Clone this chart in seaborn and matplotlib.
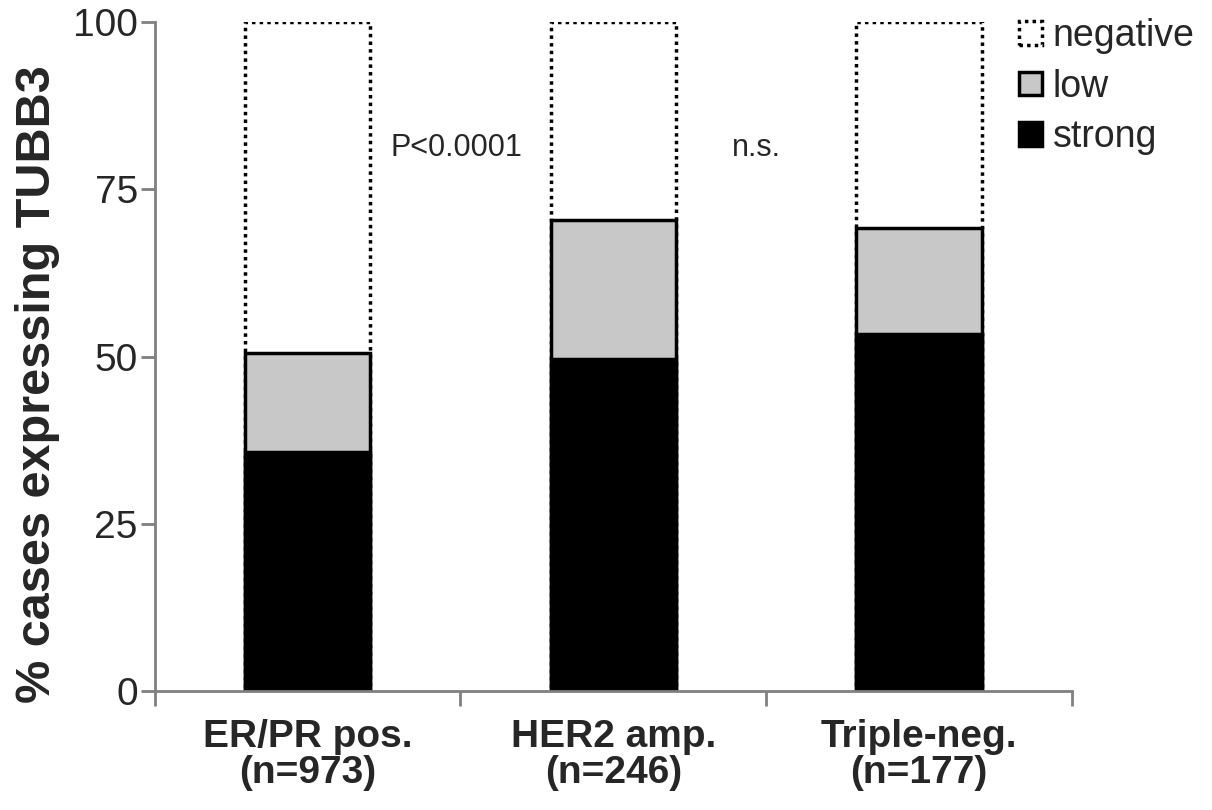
import matplotlib
matplotlib.use("Agg")
import matplotlib.pyplot as plt
import seaborn as sns
import pandas as pd
from matplotlib.patches import Patch

categories = ["ER/PR pos.\n(n=973)", "HER2 amp.\n(n=246)", "Triple-neg.\n(n=177)"]
strong = [35.8, 49.7, 53.4]
low = [14.8, 20.7, 15.8]
negative = [49.4, 29.6, 30.8]
y_ticks = [0, 25, 50, 75, 100]
annotations = ["P<0.0001", "n.s."]
legend_labels = ["negative", "low", "strong"]

sns.set_style("ticks")
plt.rcParams["font.family"] = ["Liberation Sans", "DejaVu Sans"]

df = pd.DataFrame({"category": categories, "strong": strong, "low": low, "negative": negative})
df["cum_low"] = df["strong"] + df["low"]
df["cum_neg"] = df["cum_low"] + df["negative"]

fig = plt.figure(figsize=(12.12, 8.10), dpi=100)
ax = fig.add_axes([0.1275, 0.1469, 0.757, 0.8259])

bw = 0.41
sns.barplot(data=df, x="category", y="cum_neg", color="white", edgecolor="black",
            linewidth=2.5, linestyle=(0, (1, 1.2)), width=bw, saturation=1, ax=ax)
sns.barplot(data=df, x="category", y="cum_low", color="#c8c8c8", edgecolor="black",
            linewidth=2.5, width=bw, saturation=1, ax=ax)
sns.barplot(data=df, x="category", y="strong", color="black", edgecolor="black",
            linewidth=2.5, width=bw, saturation=1, ax=ax)

ax.set_xlim(-0.5, 2.5)
ax.set_ylim(0, 100)
ax.set_yticks(y_ticks)
ax.set_yticklabels([str(t) for t in y_ticks], fontsize=28)
ax.set_xlabel("")
ax.set_ylabel("% cases expressing TUBB3", fontsize=35, fontweight="bold")
ax.yaxis.set_label_coords(-0.103, 0.458)

ax.set_xticks(range(len(categories)))
ax.set_xticklabels(categories, fontsize=28, fontweight="bold", linespacing=1.0)
ax.tick_params(axis="x", which="major", length=0, pad=20)
ax.set_xticks([-0.5, 0.5, 1.5, 2.5], minor=True)
ax.tick_params(axis="x", which="minor", length=11, width=2, color="#808080", direction="out")
ax.tick_params(axis="y", length=10, width=2, color="#808080", pad=2)

for s in ["top", "right"]:
    ax.spines[s].set_visible(False)
for s in ["left", "bottom"]:
    ax.spines[s].set_color("#808080")
    ax.spines[s].set_linewidth(2)

ax.text(0.272, 81.1, annotations[0], fontsize=22, va="center", ha="left")
ax.text(1.389, 81.1, annotations[1], fontsize=22, va="center", ha="left")

handles = [
    Patch(facecolor="white", edgecolor="black", linestyle=(0, (1, 1.2)), linewidth=2.5),
    Patch(facecolor="#c8c8c8", edgecolor="black", linewidth=2.5),
    Patch(facecolor="black", edgecolor="black", linewidth=2.5),
]
fig.legend(handles, legend_labels, loc="upper left", bbox_to_anchor=(1019 / 1212, 1 - 18 / 810),
           frameon=False, fontsize=27, handlelength=0.6, handleheight=0.6,
           handletextpad=0.3, labelspacing=0.39, borderaxespad=0, borderpad=0)

fig.savefig("out.png", dpi=100)
